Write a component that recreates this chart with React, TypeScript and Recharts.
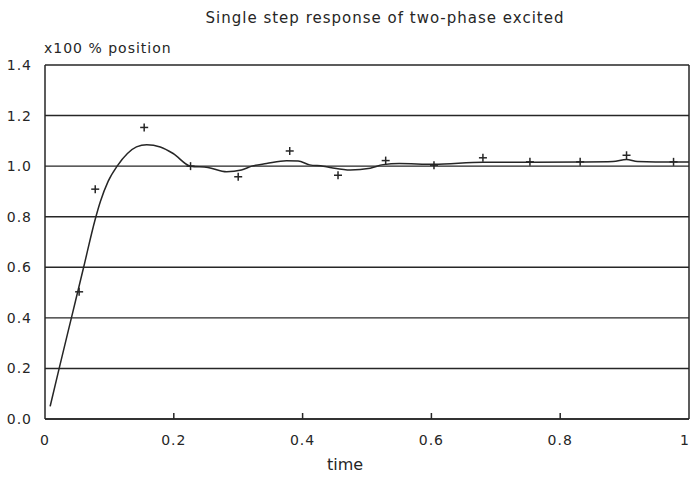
import { ComposedChart, Line, Scatter, XAxis, YAxis, CartesianGrid, ReferenceLine } from 'recharts';

// step response curve (time, x100 % position)
const curveT = [
  0.008, 0.022, 0.041, 0.06, 0.078, 0.086, 0.098, 0.112, 0.128, 0.142, 0.158, 0.179, 0.199, 0.226,
  0.253, 0.282, 0.305, 0.321, 0.344, 0.375, 0.393, 0.411, 0.432, 0.445, 0.474, 0.505, 0.525, 0.55,
  0.604, 0.68, 0.753, 0.831, 0.882, 0.903, 0.92, 0.976, 1.0,
];
const curveV = [
  0.05, 0.2, 0.4, 0.6, 0.79, 0.86, 0.94, 1.0, 1.05, 1.076, 1.085, 1.076, 1.05, 1.0,
  0.995, 0.978, 0.985, 1.0, 1.01, 1.021, 1.02, 1.005, 1.0, 0.994, 0.985, 0.992, 1.006, 1.01,
  1.007, 1.015, 1.015, 1.016, 1.018, 1.026, 1.018, 1.016, 1.016,
];

// measured points (+)
const markT = [0.053, 0.078, 0.154, 0.226, 0.3, 0.38, 0.455, 0.529, 0.604, 0.68, 0.753, 0.831, 0.903, 0.976];
const markV = [0.503, 0.909, 1.153, 1.0, 0.958, 1.06, 0.964, 1.022, 1.004, 1.033, 1.017, 1.017, 1.043, 1.017];

const xTicks = [0, 0.2, 0.4, 0.6, 0.8, 1];
const xTickLabels = ['0', '0.2', '0.4', '0.6', '0.8', '1'];
const yTicks = [0, 0.2, 0.4, 0.6, 0.8, 1.0, 1.2, 1.4];

const curve = curveT.map((t, i) => ({ t, v: curveV[i] }));
const marks = markT.map((t, i) => ({ t, v: markV[i] }));

const INK = '#262626';
const FONT = '"DejaVu Sans", sans-serif';

const Plus = ({ cx, cy }: { cx?: number; cy?: number }) => {
  if (cx == null || cy == null) return null;
  return (
    <g stroke={INK} strokeWidth={1.5}>
      <line x1={cx - 4} x2={cx + 4} y1={cy} y2={cy} />
      <line x1={cx} x2={cx} y1={cy - 4} y2={cy + 4} />
    </g>
  );
};

const XTick = ({ x, y, payload }: { x?: number; y?: number; payload?: { value: number } }) => {
  if (x == null || y == null || !payload) return null;
  const idx = xTicks.indexOf(payload.value);
  const inner = payload.value > 0 && payload.value < 1;
  // last label sits on the right edge, keep it inside the picture
  const tx = payload.value === 1 ? x - 4 : x;
  return (
    <g>
      {inner && <line x1={x} x2={x} y1={y} y2={y - 6} stroke={INK} strokeWidth={1.5} />}
      <text x={tx} y={y + 26} textAnchor="middle" fill={INK} fontSize={14} letterSpacing={1} fontFamily={FONT}>
        {xTickLabels[idx] ?? payload.value}
      </text>
    </g>
  );
};

export default function App() {
  return (
    <div style={{ position: 'absolute', left: 0, top: 0, width: 690, height: 478, background: '#fff', fontFamily: FONT }}>
      <div style={{ position: 'absolute', left: 0, width: 690, top: 9, textAlign: 'center', paddingLeft: 80, boxSizing: 'border-box', fontSize: 15, letterSpacing: 1, color: INK }}>
        Single step response of two-phase excited
      </div>
      <div style={{ position: 'absolute', left: 44, top: 40, fontSize: 14, letterSpacing: 1, color: INK }}>
        x100 % position
      </div>
      <div style={{ position: 'absolute', left: 0, width: 690, top: 455, textAlign: 'center', fontSize: 16, color: INK }}>
        time
      </div>
      <ComposedChart width={690} height={478} margin={{ top: 65, right: 1, bottom: 29, left: 0 }}>
        <CartesianGrid vertical={false} stroke={INK} strokeWidth={1.4} />
        <XAxis
          type="number"
          dataKey="t"
          domain={[0, 1]}
          ticks={xTicks}
          height={30}
          tickSize={0}
          tickMargin={0}
          tick={<XTick />}
          axisLine={{ stroke: INK, strokeWidth: 1.5 }}
          tickLine={false}
          interval={0}
        />
        <YAxis
          type="number"
          domain={[0, 1.4]}
          ticks={yTicks}
          width={45}
          tickSize={0}
          tickMargin={13}
          tickLine={false}
          axisLine={{ stroke: INK, strokeWidth: 1.5 }}
          tickFormatter={(v: number) => v.toFixed(1)}
          tick={{ fill: INK, fontSize: 14, fontFamily: FONT, letterSpacing: 1 }}
          interval={0}
        />
        <ReferenceLine x={1} stroke={INK} strokeWidth={1.5} />
        <Line
          data={curve}
          dataKey="v"
          type="monotone"
          stroke={INK}
          strokeWidth={1.5}
          dot={false}
          activeDot={false}
          isAnimationActive={false}
        />
        <Scatter data={marks} dataKey="v" shape={<Plus />} isAnimationActive={false} />
      </ComposedChart>
    </div>
  );
}
